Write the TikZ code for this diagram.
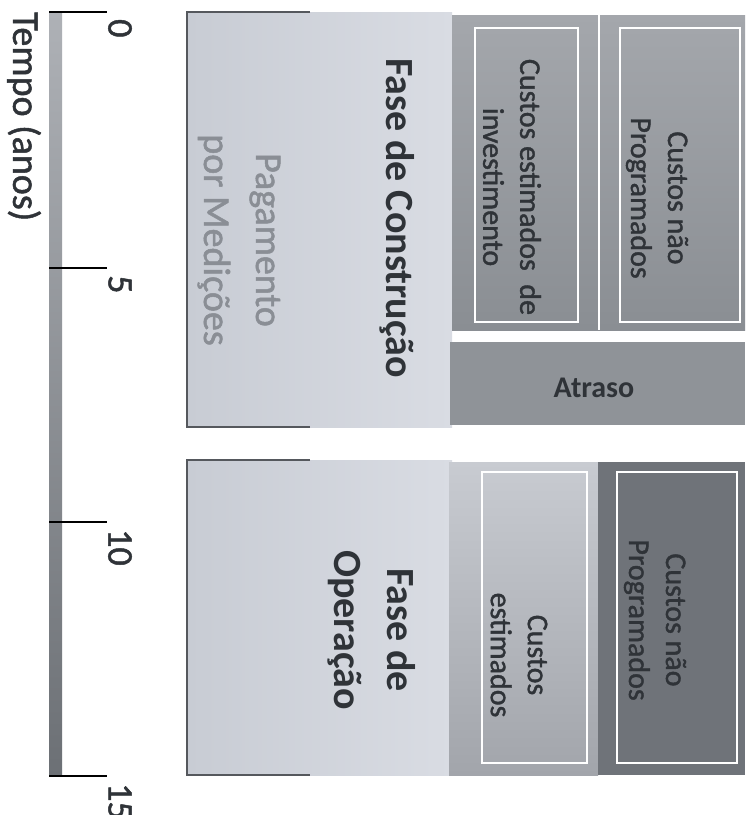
\documentclass[tikz,border=0pt]{standalone}
\usepackage{fontspec}
\setmainfont{Carlito}
\newfontfamily\medfont[FakeBold=1.3]{Carlito}
\definecolor{txtdark}{HTML}{2F3338}
\definecolor{pagtxt}{HTML}{8A8E95}
\definecolor{axtop}{HTML}{AEB1B6}
\definecolor{axbot}{HTML}{6C7075}
\definecolor{lightl}{HTML}{C8CCD4}
\definecolor{lightr}{HTML}{D9DCE3}
\definecolor{darktop}{HTML}{A4A7AC}
\definecolor{darkbot}{HTML}{8A8E93}
\definecolor{atraso}{HTML}{8F9398}
\definecolor{esttop}{HTML}{C8CBD1}
\definecolor{estbot}{HTML}{A2A5AB}
\definecolor{naop}{HTML}{6F7379}
\definecolor{edge}{HTML}{55585D}
\begin{document}
\begin{tikzpicture}[x=1pt,y=-1pt,
  boxtxt/.style={rotate=-90, align=center, font=\medfont\fontsize{30}{37}\selectfont, text=txtdark, inner sep=0pt},
  phasetxt/.style={rotate=-90, align=center, font=\bfseries\fontsize{40}{53}\selectfont, text=txtdark, inner sep=0pt},
  paytxt/.style={rotate=-90, align=center, font=\medfont\fontsize{38}{52}\selectfont, text=pagtxt, inner sep=0pt},
  ticktxt/.style={rotate=-90, anchor=west, font=\medfont\fontsize{36}{40}\selectfont, text=txtdark, inner sep=0pt},
  bracket/.style={draw=edge, line width=1.5pt},
  whitebox/.style={draw=white, line width=1.3pt}]
\useasboundingbox (0,0) rectangle (755,815);
\fill[white] (0,0) rectangle (755,815);

% time axis
\shade[top color=axtop, bottom color=axbot] (49,12) rectangle (62,776);
\foreach \yy/\t/\n in {12/0/ta, 268/5/tb, 522/10/tc, 776/15/td} {
  \draw[line width=1.5pt, black] (49,\yy) -- (107,\yy);
  \node[ticktxt] (\n) at (120,\yy+7) {\t};
}
\node[rotate=-90, anchor=west, font=\medfont\fontsize{38}{40}\selectfont, text=txtdark, inner sep=0pt] (tempo) at (24,12) {Tempo (anos)};

% construction phase
\shade[left color=lightl, right color=lightr] (187,12) rectangle (452,427);
\draw[bracket] (310,12) -- (187,12) -- (187,427) -- (310,427);
\node[phasetxt] (fconst) at (397,218) {Fase de Construção};
\node[paytxt] (pag) at (239,240) {Pagamento\\por Medições};

\shade[top color=darktop, bottom color=darkbot] (452,15) rectangle (745,330);
\draw[draw=white, line width=1.5pt] (599,15) -- (599,330);
\draw[whitebox] (475,28) rectangle (578,322);
\draw[whitebox] (620,28) rectangle (740,322);
\node[boxtxt] (cei) at (512,187) {Custos estimados\ \ de\\investimento};
\node[boxtxt] (cnp1) at (657,198) {Custos não\\Programados};

\fill[atraso] (450,342) rectangle (745,425);
\node[font=\bfseries\fontsize{30}{36}\selectfont, text=txtdark, inner sep=0pt] (atr) at (594,388) {Atraso};

% operation phase
\shade[left color=lightl, right color=lightr] (187,460) rectangle (452,775);
\draw[bracket] (310,460) -- (187,460) -- (187,775) -- (310,775);
\shade[top color=esttop, bottom color=estbot] (449,462) rectangle (598,775);
\fill[naop] (598,462) rectangle (745,775);
\draw[whitebox] (482,472) rectangle (587,763);
\draw[whitebox] (617,472) rectangle (737,763);
\node[phasetxt] (fop) at (372,630) {Fase de\\Operação};
\node[boxtxt] (ce) at (519,655) {Custos\\estimados};
\node[boxtxt] (cnp2) at (655,620) {Custos não\\Programados};
\end{tikzpicture}
\end{document}
